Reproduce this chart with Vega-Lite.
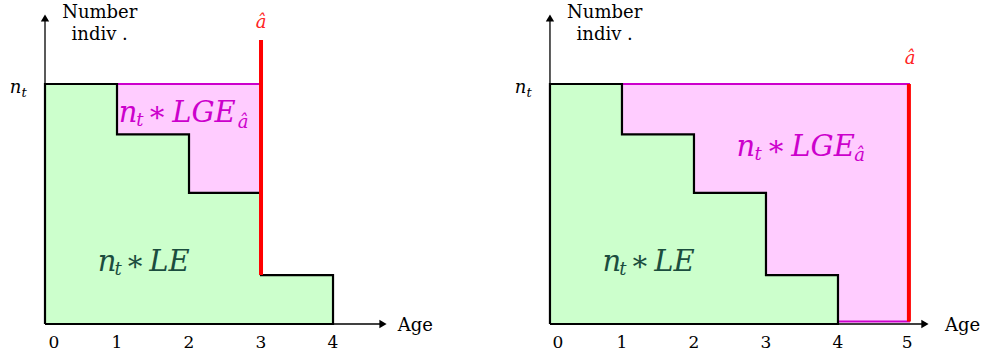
{
"$schema":"https://vega.github.io/schema/vega-lite/v6.json",
"background":"white","padding":0,"spacing":0,"bounds":"flush",
"config":{"view":{"stroke":null},"text":{"font":"DejaVu Serif, Liberation Serif, serif"},"mark":{"font":"DejaVu Serif, Liberation Serif, serif"}},
"datasets":{
 "green":[{"x":0,"y":1},{"x":1,"y":0.79},{"x":2,"y":0.546},{"x":3,"y":0.204},{"x":4,"y":0}],
 "outline":[{"o":0,"x":0,"y":0},{"o":1,"x":0,"y":1},{"o":2,"x":1,"y":1},{"o":3,"x":1,"y":0.79},{"o":4,"x":2,"y":0.79},{"o":5,"x":2,"y":0.546},{"o":6,"x":3,"y":0.546},{"o":7,"x":3,"y":0.204},{"o":8,"x":4,"y":0.204},{"o":9,"x":4,"y":0},{"o":10,"x":0,"y":0}],
 "greenMain":[{"x":0.861,"y":0.2208,"t":"n"},{"x":1.25,"y":0.2208,"t":"∗"},{"x":1.729,"y":0.2208,"t":"LE"}],
 "greenSub":[{"x":1.014,"y":0.204,"t":"t"}],
 "yTitle":[{"x":0.76,"y":1.273,"t":"Number"},{"x":0.76,"y":1.183,"t":"indiv ."}],
 "ntMain":[{"x":-0.41,"y":0.964,"t":"n"}],
 "ntSub":[{"x":-0.29,"y":0.946,"t":"t"}]
},
"hconcat":[
{
 "width":491,"height":356,
 "encoding":{
  "x":{"field":"x","type":"quantitative","scale":{"domain":[-0.625,6.194],"nice":false,"zero":false},"axis":null},
  "y":{"field":"y","type":"quantitative","scale":{"domain":[-0.1333,1.35],"nice":false,"zero":false},"axis":null}
 },
 "layer":[
  {"data":{"values":[{"x":1,"y":1,"y2":0.79},{"x":2,"y":1,"y2":0.546},{"x":3,"y":1,"y2":0.546}]},"mark":{"type":"area","interpolate":"step-after","color":"#ffccff","orient":"vertical","opacity":1},"encoding":{"y2":{"field":"y2"}}},
  {"data":{"name":"green"},"mark":{"type":"area","interpolate":"step-after","color":"#ccffcc","orient":"vertical","opacity":1},"encoding":{"y2":{"datum":0}}},
  {"data":{"values":[{"x":1,"x2":3,"y":1}]},"mark":{"type":"rule","color":"#cc00cc","strokeWidth":2},"encoding":{"x2":{"field":"x2"}}},
  {"data":{"values":[{"x":0,"x2":4.694,"y":0}]},"mark":{"type":"rule","color":"black","strokeWidth":1.3},"encoding":{"x2":{"field":"x2"}}},
  {"data":{"values":[{"x":0,"y":0,"y2":1.275}]},"mark":{"type":"rule","color":"black","strokeWidth":1.3},"encoding":{"y2":{"field":"y2"}}},
  {"data":{"values":[{"x":4.694,"y":0}]},"mark":{"type":"point","shape":"triangle-right","filled":true,"color":"black","size":70,"opacity":1}},
  {"data":{"values":[{"x":0,"y":1.275}]},"mark":{"type":"point","shape":"triangle-up","filled":true,"color":"black","size":70,"opacity":1}},
  {"data":{"name":"outline"},"mark":{"type":"line","color":"black","strokeWidth":2.2,"strokeJoin":"miter"},"encoding":{"order":{"field":"o"}}},
  {"data":{"values":[{"x":3,"y":0.204,"y2":1.183}]},"mark":{"type":"rule","color":"#ff0000","strokeWidth":4},"encoding":{"y2":{"field":"y2"}}},
  {"data":{"values":[{"x":0.125,"y":-0.1,"t":"0"},{"x":1,"y":-0.1,"t":"1"},{"x":2,"y":-0.1,"t":"2"},{"x":3,"y":-0.1,"t":"3"},{"x":4,"y":-0.1,"t":"4"}]},"mark":{"type":"text","fontSize":17,"align":"center","baseline":"alphabetic","color":"black"},"encoding":{"text":{"field":"t"}}},
  {"data":{"values":[{"x":4.9,"y":-0.029,"t":"Age"}]},"mark":{"type":"text","fontSize":18,"align":"left","baseline":"alphabetic","color":"black"},"encoding":{"text":{"field":"t"}}},
  {"data":{"name":"yTitle"},"mark":{"type":"text","fontSize":18,"align":"center","baseline":"alphabetic","color":"black"},"encoding":{"text":{"field":"t"}}},
  {"data":{"name":"ntMain"},"mark":{"type":"text","fontSize":18,"fontStyle":"italic","align":"center","baseline":"alphabetic","color":"black"},"encoding":{"text":{"field":"t"}}},
  {"data":{"name":"ntSub"},"mark":{"type":"text","fontSize":13,"fontStyle":"italic","align":"center","baseline":"alphabetic","color":"black"},"encoding":{"text":{"field":"t"}}},
  {"data":{"values":[{"x":3,"y":1.233,"t":"â"}]},"mark":{"type":"text","fontSize":18,"fontStyle":"italic","align":"center","baseline":"alphabetic","color":"#ff2222"},"encoding":{"text":{"field":"t"}}},
  {"data":{"name":"greenMain"},"mark":{"type":"text","fontSize":29,"fontStyle":"italic","align":"center","baseline":"alphabetic","color":"#1b4d3e"},"encoding":{"text":{"field":"t"}}},
  {"data":{"name":"greenSub"},"mark":{"type":"text","fontSize":18,"fontStyle":"italic","align":"center","baseline":"alphabetic","color":"#1b4d3e"},"encoding":{"text":{"field":"t"}}},
  {"data":{"values":[{"x":1.153,"y":0.8417,"t":"n"},{"x":1.556,"y":0.8417,"t":"∗"},{"x":2.208,"y":0.8417,"t":"LGE"}]},"mark":{"type":"text","fontSize":29,"fontStyle":"italic","align":"center","baseline":"alphabetic","color":"#cc00cc"},"encoding":{"text":{"field":"t"}}},
  {"data":{"values":[{"x":1.319,"y":0.825,"t":"t"},{"x":2.75,"y":0.818,"t":"â"}]},"mark":{"type":"text","fontSize":18,"fontStyle":"italic","align":"center","baseline":"alphabetic","color":"#cc00cc"},"encoding":{"text":{"field":"t"}}}
 ]
},
{
 "width":492,"height":356,
 "encoding":{
  "x":{"field":"x","type":"quantitative","scale":{"domain":[-0.819,6.014],"nice":false,"zero":false},"axis":null},
  "y":{"field":"y","type":"quantitative","scale":{"domain":[-0.1333,1.35],"nice":false,"zero":false},"axis":null}
 },
 "layer":[
  {"data":{"values":[{"x":1,"y":1,"y2":0.79},{"x":2,"y":1,"y2":0.546},{"x":3,"y":1,"y2":0.204},{"x":4,"y":1,"y2":0.0104},{"x":5,"y":1,"y2":0.0104}]},"mark":{"type":"area","interpolate":"step-after","color":"#ffccff","orient":"vertical","opacity":1},"encoding":{"y2":{"field":"y2"}}},
  {"data":{"name":"green"},"mark":{"type":"area","interpolate":"step-after","color":"#ccffcc","orient":"vertical","opacity":1},"encoding":{"y2":{"datum":0}}},
  {"data":{"values":[{"x":1,"x2":5,"y":1},{"x":4,"x2":5,"y":0.0104}]},"mark":{"type":"rule","color":"#cc00cc","strokeWidth":2},"encoding":{"x2":{"field":"x2"}}},
  {"data":{"values":[{"x":0,"x2":5.208,"y":0}]},"mark":{"type":"rule","color":"black","strokeWidth":1.3},"encoding":{"x2":{"field":"x2"}}},
  {"data":{"values":[{"x":0,"y":0,"y2":1.275}]},"mark":{"type":"rule","color":"black","strokeWidth":1.3},"encoding":{"y2":{"field":"y2"}}},
  {"data":{"values":[{"x":5.208,"y":0}]},"mark":{"type":"point","shape":"triangle-right","filled":true,"color":"black","size":70,"opacity":1}},
  {"data":{"values":[{"x":0,"y":1.275}]},"mark":{"type":"point","shape":"triangle-up","filled":true,"color":"black","size":70,"opacity":1}},
  {"data":{"name":"outline"},"mark":{"type":"line","color":"black","strokeWidth":2.2,"strokeJoin":"miter"},"encoding":{"order":{"field":"o"}}},
  {"data":{"values":[{"x":4.985,"y":0.01,"y2":1.0}]},"mark":{"type":"rule","color":"#ff0000","strokeWidth":4},"encoding":{"y2":{"field":"y2"}}},
  {"data":{"values":[{"x":0.11,"y":-0.1,"t":"0"},{"x":1,"y":-0.1,"t":"1"},{"x":2,"y":-0.1,"t":"2"},{"x":3,"y":-0.1,"t":"3"},{"x":4,"y":-0.1,"t":"4"},{"x":4.96,"y":-0.1,"t":"5"}]},"mark":{"type":"text","fontSize":17,"align":"center","baseline":"alphabetic","color":"black"},"encoding":{"text":{"field":"t"}}},
  {"data":{"values":[{"x":5.486,"y":-0.029,"t":"Age"}]},"mark":{"type":"text","fontSize":18,"align":"left","baseline":"alphabetic","color":"black"},"encoding":{"text":{"field":"t"}}},
  {"data":{"name":"yTitle"},"mark":{"type":"text","fontSize":18,"align":"center","baseline":"alphabetic","color":"black"},"encoding":{"text":{"field":"t"}}},
  {"data":{"name":"ntMain"},"mark":{"type":"text","fontSize":18,"fontStyle":"italic","align":"center","baseline":"alphabetic","color":"black"},"encoding":{"text":{"field":"t"}}},
  {"data":{"name":"ntSub"},"mark":{"type":"text","fontSize":13,"fontStyle":"italic","align":"center","baseline":"alphabetic","color":"black"},"encoding":{"text":{"field":"t"}}},
  {"data":{"values":[{"x":5,"y":1.083,"t":"â"}]},"mark":{"type":"text","fontSize":18,"fontStyle":"italic","align":"center","baseline":"alphabetic","color":"#ff2222"},"encoding":{"text":{"field":"t"}}},
  {"data":{"name":"greenMain"},"mark":{"type":"text","fontSize":29,"fontStyle":"italic","align":"center","baseline":"alphabetic","color":"#1b4d3e"},"encoding":{"text":{"field":"t"}}},
  {"data":{"name":"greenSub"},"mark":{"type":"text","fontSize":18,"fontStyle":"italic","align":"center","baseline":"alphabetic","color":"#1b4d3e"},"encoding":{"text":{"field":"t"}}},
  {"data":{"values":[{"x":2.722,"y":0.7,"t":"n"},{"x":3.139,"y":0.7,"t":"∗"},{"x":3.792,"y":0.7,"t":"LGE"}]},"mark":{"type":"text","fontSize":29,"fontStyle":"italic","align":"center","baseline":"alphabetic","color":"#cc00cc"},"encoding":{"text":{"field":"t"}}},
  {"data":{"values":[{"x":2.889,"y":0.682,"t":"t"},{"x":4.3,"y":0.678,"t":"â"}]},"mark":{"type":"text","fontSize":18,"fontStyle":"italic","align":"center","baseline":"alphabetic","color":"#cc00cc"},"encoding":{"text":{"field":"t"}}}
 ]
}
]
}
